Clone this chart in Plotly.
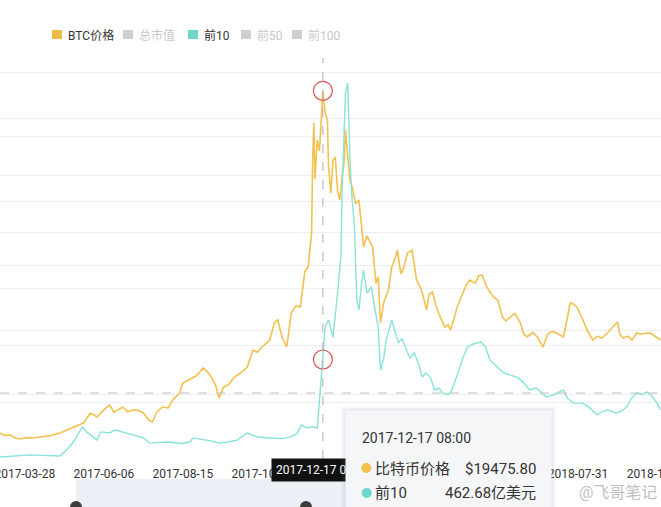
import plotly.graph_objects as go

# ---------------- data ----------------
btc_dates = [
    "2017-03-06", "2017-03-10", "2017-03-15", "2017-03-20", "2017-03-24", "2017-03-29",
    "2017-04-04", "2017-04-13", "2017-04-20", "2017-04-28",
    "2017-05-04", "2017-05-10", "2017-05-15", "2017-05-19", "2017-05-25", "2017-05-31",
    "2017-06-06", "2017-06-11", "2017-06-15", "2017-06-18",
    "2017-06-23", "2017-06-27", "2017-07-02", "2017-07-07", "2017-07-11", "2017-07-16",
    "2017-07-19", "2017-07-23", "2017-07-28",
    "2017-08-02", "2017-08-06", "2017-08-12", "2017-08-15", "2017-08-20", "2017-08-27", "2017-09-02",
    "2017-09-06", "2017-09-09", "2017-09-13", "2017-09-16", "2017-09-20", "2017-09-24",
    "2017-09-30", "2017-10-05", "2017-10-11", "2017-10-16", "2017-10-20", "2017-10-24",
    "2017-10-31", "2017-11-04", "2017-11-07", "2017-11-11", "2017-11-15", "2017-11-19",
    "2017-11-23", "2017-11-27", "2017-12-01", "2017-12-04",
    "2017-12-07", "2017-12-08", "2017-12-09", "2017-12-10", "2017-12-12", "2017-12-14",
    "2017-12-15", "2017-12-17", "2017-12-19", "2017-12-21",
    "2017-12-22", "2017-12-24", "2017-12-26", "2017-12-28", "2017-12-30", "2018-01-01",
    "2018-01-03", "2018-01-05", "2018-01-06", "2018-01-08",
    "2018-01-10", "2018-01-12", "2018-01-15", "2018-01-18", "2018-01-20", "2018-01-22",
    "2018-01-25", "2018-01-27", "2018-01-30", "2018-02-02", "2018-02-04",
    "2018-02-06", "2018-02-09", "2018-02-13", "2018-02-16", "2018-02-19", "2018-02-21",
    "2018-02-24", "2018-02-26", "2018-03-02", "2018-03-06",
    "2018-03-10", "2018-03-14", "2018-03-19", "2018-03-21", "2018-03-24", "2018-03-28",
    "2018-03-31", "2018-04-04", "2018-04-07", "2018-04-09",
    "2018-04-12", "2018-04-15", "2018-04-20", "2018-04-23", "2018-04-26", "2018-05-01",
    "2018-05-04", "2018-05-07", "2018-05-11", "2018-05-17", "2018-05-21", "2018-05-25",
    "2018-05-28", "2018-06-01", "2018-06-05", "2018-06-10", "2018-06-13", "2018-06-16",
    "2018-06-21", "2018-06-25", "2018-06-30", "2018-07-04", "2018-07-08", "2018-07-12",
    "2018-07-18", "2018-07-21", "2018-07-24", "2018-07-27", "2018-07-30", "2018-08-04",
    "2018-08-08", "2018-08-13", "2018-08-17", "2018-08-21", "2018-08-26", "2018-08-31",
    "2018-09-04", "2018-09-06", "2018-09-09", "2018-09-13", "2018-09-17", "2018-09-21",
    "2018-09-25", "2018-09-29", "2018-10-03", "2018-10-07", "2018-10-12",
]
btc_values = [
    1375, 1250, 1270, 1100, 1058, 1130,
    1111, 1164, 1240, 1375,
    1520, 1693, 1800, 1904, 2433, 2222,
    2600, 2857, 2480, 2592,
    2751, 2500, 2592, 2560, 2433, 2050,
    1957, 2486, 2751,
    2700, 3121, 3491, 4020, 4180, 4400, 4814,
    4600, 4338, 3900, 3227, 3800, 3915,
    4350, 4549, 4850, 5766, 5650, 5925,
    6295, 7200, 7353, 6400, 5925, 7723,
    8100, 8041, 9900, 10157,
    11955, 15900, 17774, 14800, 16875, 16300,
    17245, 19475.80, 18300, 17933,
    15500, 14071, 15800, 15976, 14200, 13701,
    14900, 15817, 17404, 16187,
    14700, 14389, 13500, 13701, 12600, 11215,
    11800, 11585, 11215, 9300, 9628,
    7194, 8300, 8940, 10157, 10600, 11056,
    9800, 9998, 10900, 11056,
    9469, 9000, 7882, 8700, 8834, 7950,
    7512, 6983, 7100, 6824,
    7400, 8041, 8781, 9200, 9469, 9300,
    9700, 9734, 9100, 8570, 8400, 7512,
    7300, 7512, 7700, 7194, 6600, 6454,
    6700, 6454, 5925, 6600, 6750, 6665,
    6454, 7300, 8252, 8200, 8041, 7400,
    6824, 6295, 6500, 6400, 6665, 7000,
    7247, 6600, 6401, 6500, 6300, 6665,
    6600, 6650, 6665, 6500, 6295,
]

top10_dates = [
    "2017-03-06", "2017-04-02", "2017-04-28", "2017-05-04", "2017-05-10", "2017-05-18",
    "2017-05-22", "2017-05-25", "2017-05-31", "2017-06-03", "2017-06-11", "2017-06-16",
    "2017-06-23", "2017-07-02", "2017-07-10", "2017-07-17", "2017-08-01", "2017-08-14",
    "2017-08-21", "2017-08-24", "2017-09-05", "2017-09-17", "2017-09-25",
    "2017-10-02", "2017-10-11", "2017-10-20", "2017-10-31", "2017-11-10", "2017-11-18",
    "2017-11-24", "2017-11-28",
    "2017-12-03", "2017-12-08", "2017-12-12", "2017-12-14", "2017-12-17", "2017-12-19",
    "2017-12-22", "2017-12-26", "2017-12-30", "2018-01-02", "2018-01-03", "2018-01-05",
    "2018-01-06", "2018-01-08", "2018-01-10", "2018-01-12", "2018-01-14", "2018-01-16",
    "2018-01-18", "2018-01-20", "2018-01-22", "2018-01-25", "2018-01-29", "2018-02-01",
    "2018-02-04", "2018-02-06", "2018-02-09", "2018-02-11", "2018-02-16", "2018-02-19",
    "2018-02-22", "2018-02-25", "2018-02-28", "2018-03-04", "2018-03-08", "2018-03-12",
    "2018-03-15", "2018-03-18", "2018-03-22", "2018-03-26", "2018-03-30", "2018-04-02",
    "2018-04-06", "2018-04-09", "2018-04-13", "2018-04-17", "2018-04-20", "2018-04-24",
    "2018-04-29", "2018-05-06", "2018-05-10", "2018-05-14", "2018-05-20", "2018-05-26",
    "2018-06-01", "2018-06-07", "2018-06-12", "2018-06-18", "2018-06-24", "2018-07-03",
    "2018-07-10", "2018-07-18", "2018-07-22", "2018-07-27", "2018-08-04", "2018-08-10",
    "2018-08-17", "2018-08-22", "2018-08-26", "2018-09-03", "2018-09-08", "2018-09-12",
    "2018-09-16", "2018-09-21", "2018-09-26", "2018-09-30", "2018-10-05", "2018-10-09",
    "2018-10-12",
]
top10_values = [
    9, 19, 14, 42, 79, 149,
    125, 112, 88, 126, 121, 135,
    126, 112, 100, 74, 79, 72,
    79, 98, 88, 74, 80,
    88, 121, 102, 98, 95, 102,
    118, 158,
    144, 150, 144, 274, 462.68, 614,
    646, 567, 772, 950, 1237, 1544,
    1702, 1749, 1391, 1200, 1079, 740,
    693, 800, 879, 772, 800, 700,
    614, 414, 470, 553, 646, 590,
    540, 560, 521, 470, 493, 440,
    381, 400, 381, 321, 330, 307,
    300, 307, 360, 428, 470, 521,
    535, 544, 520, 460, 430, 400,
    390, 381, 360, 321, 330, 288,
    300, 321, 280, 260, 260, 240,
    205, 222, 228, 214, 225, 242,
    280, 307, 300, 312, 290, 260,
    228,
]

tick_dates = ["2017-03-28", "2017-06-06", "2017-08-15", "2017-10-24", "2018-01-02",
              "2018-03-13", "2018-05-22", "2018-07-31", "2018-10-09"]

legend_names = ["BTC价格", "总市值", "前10", "前50", "前100"]
legend_colors = ["#EDBB4B", "#CFCFCF", "#6FD6CB", "#CFCFCF", "#CFCFCF"]
legend_active = [True, False, True, False, False]

highlight_date = "2017-12-17"
highlight_label = "2017-12-17 08:00"
highlight_btc = 19475.80
highlight_top10 = 462.68
tooltip_names = ["比特币价格", "前10"]

# ---------------- styling / layout helpers ----------------
W, H = 661, 507
PT, PB = 62, 459          # plot area top / bottom in pixels
YELLOW = "#F2C14E"
CYAN = "#88E3D9"
FONT = "Roboto, Noto Sans CJK SC, sans-serif"


def px(x):
    return x / W


def py(y):
    return (PB - y) / (PB - PT)


fig = go.Figure()
fig.add_trace(go.Scatter(x=btc_dates, y=btc_values, name="BTC价格", mode="lines",
                         line=dict(color=YELLOW, width=1.6), yaxis="y"))
fig.add_trace(go.Scatter(x=top10_dates, y=top10_values, name="前10", mode="lines",
                         line=dict(color=CYAN, width=1.4), yaxis="y2"))
# highlighted points + hand-drawn red circles
fig.add_trace(go.Scatter(x=[highlight_date], y=[highlight_btc], mode="markers", yaxis="y",
                         marker=dict(symbol="circle-open", size=19, color="#D9534F",
                                     line=dict(width=1.2))))
fig.add_trace(go.Scatter(x=[highlight_date], y=[highlight_top10], mode="markers", yaxis="y2",
                         marker=dict(symbol="circle-open", size=19, color="#D9534F",
                                     line=dict(width=1.2))))

shapes = []
annotations = []

# legend (ECharts style squares)
legend_x = [52, 123, 188, 241, 292]
for name, col, active, lx in zip(legend_names, legend_colors, legend_active, legend_x):
    shapes.append(dict(type="rect", xref="paper", yref="paper",
                       x0=px(lx), x1=px(lx + 10), y0=py(39), y1=py(30),
                       fillcolor=col, line=dict(width=0)))
    annotations.append(dict(x=px(lx + 14), y=py(35), xref="paper", yref="paper",
                            xanchor="left", yanchor="middle", showarrow=False,
                            text=name, font=dict(family=FONT, size=12,
                                                 color="#333333" if active else "#C8C8C8")))

# crosshair lines
shapes.append(dict(type="line", xref="x", yref="paper", x0=highlight_date, x1=highlight_date,
                   y0=0, y1=py(58), line=dict(color="#B0B0B0", width=1, dash="dash")))
shapes.append(dict(type="line", xref="paper", yref="paper", x0=0, x1=1,
                   y0=py(393), y1=py(393), line=dict(color="#C0C0C0", width=1, dash="dash")))

# data-zoom slider remnants at the bottom
shapes.append(dict(type="rect", xref="paper", yref="paper", x0=px(76), x1=px(346),
                   y0=py(479), y1=py(512), fillcolor="#ECEFF6", line=dict(width=0)))
for hx in (76, 306):
    shapes.append(dict(type="circle", xref="paper", yref="paper", x0=px(hx - 6), x1=px(hx + 6),
                       y0=py(501), y1=py(513), fillcolor="#3C3C3C", line=dict(width=0)))

# axis pointer label
annotations.append(dict(x=highlight_date, xref="x", y=py(470.5), yref="paper",
                        xanchor="center", yanchor="middle", showarrow=False,
                        text=highlight_label, bgcolor="#111111", borderpad=4,
                        font=dict(family=FONT, size=12, color="white")))

# tooltip box (shadow + box)
annotations.append(dict(x=px(341), y=py(406), xref="paper", yref="paper", xanchor="left",
                        yanchor="top", showarrow=False, text=" ", width=213, height=120,
                        bgcolor="rgba(120,130,150,0.07)", borderpad=0))
annotations.append(dict(x=px(343), y=py(408), xref="paper", yref="paper", xanchor="left",
                        yanchor="top", showarrow=False, text=" ", width=209, height=116,
                        bgcolor="rgba(120,130,150,0.08)", borderpad=0))
annotations.append(dict(x=px(345), y=py(410), xref="paper", yref="paper", xanchor="left",
                        yanchor="top", showarrow=False, text=" ", width=205, height=110,
                        bgcolor="#F5F6F8", borderpad=0))
annotations.append(dict(x=px(360), y=py(438), xref="paper", yref="paper", xanchor="left",
                        yanchor="middle", showarrow=False, text=highlight_label,
                        font=dict(family=FONT, size=14, color="#333333")))
rows = [(tooltip_names[0], f"${highlight_btc:.2f}", YELLOW, 469),
        (tooltip_names[1], f"{highlight_top10:.2f}亿美元", "#6FD6CB", 493)]
for nm, val, col, ry in rows:
    annotations.append(dict(x=px(366), y=py(ry), xref="paper", yref="paper", xanchor="center",
                            yanchor="middle", showarrow=False,
                            text=f"<span style='color:{col}'>●</span>",
                            font=dict(family=FONT, size=11, color=col)))
    annotations.append(dict(x=px(373), y=py(ry), xref="paper", yref="paper", xanchor="left",
                            yanchor="middle", showarrow=False, text=nm,
                            font=dict(family=FONT, size=15, color="#333333")))
    annotations.append(dict(x=px(538), y=py(ry), xref="paper", yref="paper", xanchor="right",
                            yanchor="middle", showarrow=False, text=val,
                            font=dict(family=FONT, size=15, color="#333333")))

# watermark
annotations.append(dict(x=px(659), y=py(492), xref="paper", yref="paper", xanchor="right",
                        yanchor="middle", showarrow=False, text="@飞哥笔记",
                        font=dict(family=FONT, size=16, color="rgba(170,170,170,0.75)")))

fig.update_layout(
    width=W, height=H,
    margin=dict(l=0, r=0, t=PT, b=H - PB, autoexpand=False),
    paper_bgcolor="white", plot_bgcolor="white",
    showlegend=False, hovermode=False,
    xaxis=dict(type="date", range=["2017-03-06", "2018-10-12 12:00"],
               tickmode="array", tickvals=tick_dates, ticktext=tick_dates,
               showgrid=False, zeroline=False, showline=False, ticks="",
               automargin=False,
               ticklabelstandoff=6, ticklabeloverflow="allow",
               tickfont=dict(family=FONT, size=12, color="#333333")),
    yaxis=dict(range=[0, 21000], dtick=3000, showticklabels=False, zeroline=False,
               automargin=False,
               showgrid=True, gridcolor="#EEEEEE", gridwidth=1),
    yaxis2=dict(range=[0, 1846.5], dtick=300, overlaying="y", side="right",
                automargin=False,
                showticklabels=False, zeroline=False, showgrid=True,
                gridcolor="#EEEEEE", gridwidth=1),
    shapes=shapes,
    annotations=annotations,
)

fig.write_html("out.html", config={"displayModeBar": False},
               post_script="document.body.style.margin='0';document.body.style.overflow='hidden';")
